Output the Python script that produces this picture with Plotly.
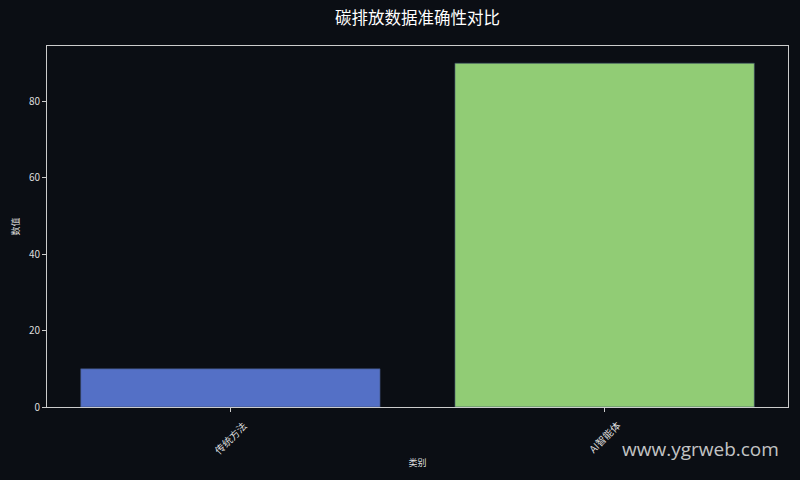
import plotly.graph_objects as go

categories = ["传统方法", "AI智能体"]
values = [10, 90]
colors = ["#5470c6", "#91cc75"]

bg = "#0b0e14"
font_family = "Noto Sans CJK SC"

fig = go.Figure()
fig.add_trace(go.Bar(
    x=[0, 1], y=values, width=0.8,
    marker=dict(color=colors, line=dict(color="#3a4a6a", width=0.6)),
    showlegend=False,
))

fig.update_layout(
    width=800, height=480,
    paper_bgcolor=bg, plot_bgcolor=bg,
    margin=dict(l=47, r=12, t=46, b=73),
    font=dict(family=font_family, color="#dddddd"),
    title=dict(text="碳排放数据准确性对比", x=0.5, xref="paper", xanchor="center",
               y=0.962, yanchor="middle",
               font=dict(size=16.5, color="#ffffff")),
)
fig.update_xaxes(
    range=[-0.49, 1.49], tickmode="array", tickvals=[0, 1], showticklabels=False,
    ticks="outside", ticklen=4, tickcolor="#cccccc",
    showgrid=False, zeroline=False,
    showline=True, linecolor="#cccccc", linewidth=1, mirror=True,
    title=dict(text="类别", font=dict(size=9, color="#dddddd"), standoff=48),
)
fig.update_yaxes(
    range=[0, 94.5], tickvals=[0, 20, 40, 60, 80],
    ticks="outside", ticklen=4, tickcolor="#cccccc",
    tickfont=dict(size=10, color="#dddddd"),
    showgrid=False, zeroline=False,
    showline=True, linecolor="#cccccc", linewidth=1, mirror=True,
    title=dict(text="数值", font=dict(size=9, color="#dddddd"), standoff=7),
)

# category labels centred under their ticks, rotated like the original
for i, name in enumerate(categories):
    fig.add_annotation(
        x=i, y=0, xref="x", yref="y", text=name, textangle=-45,
        xanchor="center", yanchor="top", yshift=-8, showarrow=False,
        font=dict(size=10, color="#dddddd"),
    )

fig.add_annotation(
    text="www.ygrweb.com", xref="paper", yref="paper",
    x=0.99, y=-0.115, xanchor="right", yanchor="middle", showarrow=False,
    font=dict(family="Open Sans", size=19, color="rgba(230,230,230,0.85)"),
)

# drop the page margin so the figure fills the window
fig.write_html("out.html", config={"displayModeBar": False},
               post_script="document.body.style.margin='0';"
               "document.body.style.background='%s';" % bg)
